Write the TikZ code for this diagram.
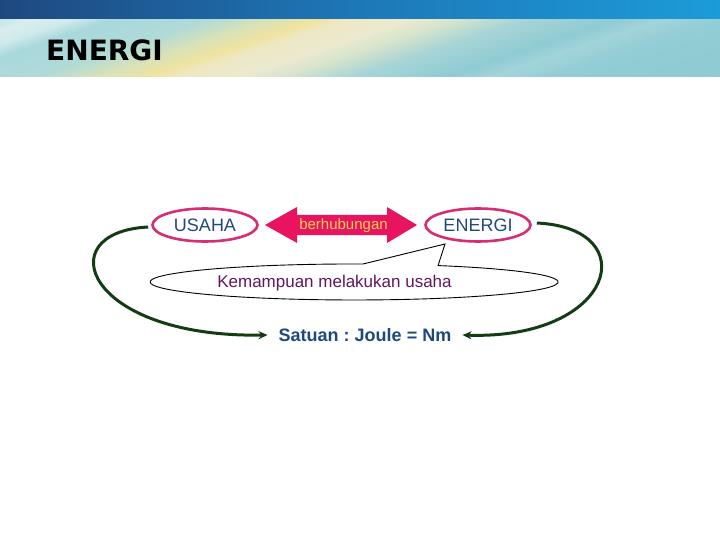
\documentclass[tikz,border=0pt]{standalone}
\usepackage{fontspec}
\setmainfont{Liberation Sans}
\newfontfamily\titlefont{DejaVu Sans}
\usetikzlibrary{shapes.geometric,arrows.meta,calc}
\frenchspacing
\definecolor{bandL}{RGB}{30,72,128}
\definecolor{bandM}{RGB}{30,120,184}
\definecolor{bandR}{RGB}{28,156,216}
\definecolor{hA}{HTML}{B9E0E2}
\definecolor{hB}{HTML}{D9EEEE}
\definecolor{hC}{HTML}{CFE9EA}
\definecolor{hD}{HTML}{A9D8DC}
\definecolor{hE}{HTML}{B0DAD8}
\definecolor{hF}{HTML}{D8E2B8}
\definecolor{hG}{HTML}{EFE3A0}
\definecolor{hH}{HTML}{EEE8C4}
\definecolor{hI}{HTML}{EBE9CF}
\definecolor{hJ}{HTML}{D6E3CC}
\definecolor{hK}{HTML}{A8D5D6}
\definecolor{hL}{HTML}{8FCBD3}
\definecolor{hM}{HTML}{A2D4DA}
\definecolor{hN}{HTML}{92CCD4}
\definecolor{hO}{HTML}{8ECAD3}
\pgfdeclarehorizontalshading{hdrshade}{100bp}{color(0bp)=(hA); color(25bp)=(hA); color(27.5bp)=(hB); color(29.67bp)=(hC); color(31.67bp)=(hD); color(36.67bp)=(hE); color(40bp)=(hF); color(42.5bp)=(hG); color(44.17bp)=(hH); color(47.5bp)=(hI); color(50bp)=(hJ); color(53.33bp)=(hK); color(58.33bp)=(hL); color(60.83bp)=(hM); color(64.17bp)=(hN); color(75bp)=(hO); color(100bp)=(hO)}
\definecolor{ellc}{RGB}{214,45,115}
\definecolor{arrc}{RGB}{232,20,95}
\definecolor{txtblue}{RGB}{31,73,125}
\definecolor{txtpurple}{RGB}{96,22,96}
\definecolor{txtyellow}{RGB}{232,212,80}
\definecolor{arcgreen}{RGB}{20,60,20}
\tikzset{
  ellnode/.style={ellipse, draw=ellc, line width=2.6pt, minimum width=105pt, minimum height=33pt, inner sep=0pt, text=txtblue, font=\fontsize{18}{20}\selectfont},
  greenarc/.style={draw=arcgreen, line width=3pt, -{Stealth[length=9pt,width=8pt]}},
  calloutshape/.style={draw=black, fill=white, line width=0.9pt, line join=miter}
}
\begin{document}
\begin{tikzpicture}[x=1pt,y=-1pt]
\useasboundingbox (0,0) rectangle (720,540);
\fill[white] (0,0) rectangle (720,540);
% header top band
\shade[left color=bandL, right color=bandR, middle color=bandM] (0,0) rectangle (720,20);
% header light band
\begin{scope}
  \clip (0,20) rectangle (720,77);
  \begin{scope}[transform canvas={rotate around={-71.5:(215,48)}}]
    \shade[shading=hdrshade] (115,-452) rectangle (415,548);
  \end{scope}
\end{scope}
\node[anchor=base west, inner sep=0pt, font=\titlefont\bfseries\fontsize{28}{30}\selectfont, text=black] (title) at (46,61) {ENERGI};
% callout
\draw[calloutshape] (445,244) -- (363,264) arc[start angle=87.5, end angle=425.7, x radius=204pt, y radius=18pt] -- cycle;
\node[anchor=base, inner sep=0pt, text=txtpurple, font=\fontsize{17}{19}\selectfont] (kem) at (334.5,287) {Kemampuan melakukan usaha};
% double arrow
\fill[arrc] (265,225) -- (297,207) -- (297,215) -- (387,215) -- (387,207) -- (417,225) -- (387,243) -- (387,235) -- (297,235) -- (297,243) -- cycle;
\node[anchor=base, inner sep=0pt, text=txtyellow, font=\fontsize{15}{17}\selectfont] (rel) at (343.5,229.5) {berhubungan};
% ellipses
\node[ellnode] (usaha) at (205,225) {USAHA};
\node[ellnode] (energi) at (478,225) {ENERGI};
% units
\node[inner xsep=11pt, inner ysep=2pt, text=txtblue, font=\bfseries\fontsize{18}{20}\selectfont] (satuan) at (365,335) {Satuan : Joule = Nm};
% green arcs
\draw[greenarc] ($(usaha.west)+(-3,2)$) .. controls (48,232) and (85,338) .. (satuan.west);
\draw[greenarc] ($(energi.east)+(5,-2)$) .. controls (645,228) and (615,340) .. (satuan.east);
\end{tikzpicture}
\end{document}
